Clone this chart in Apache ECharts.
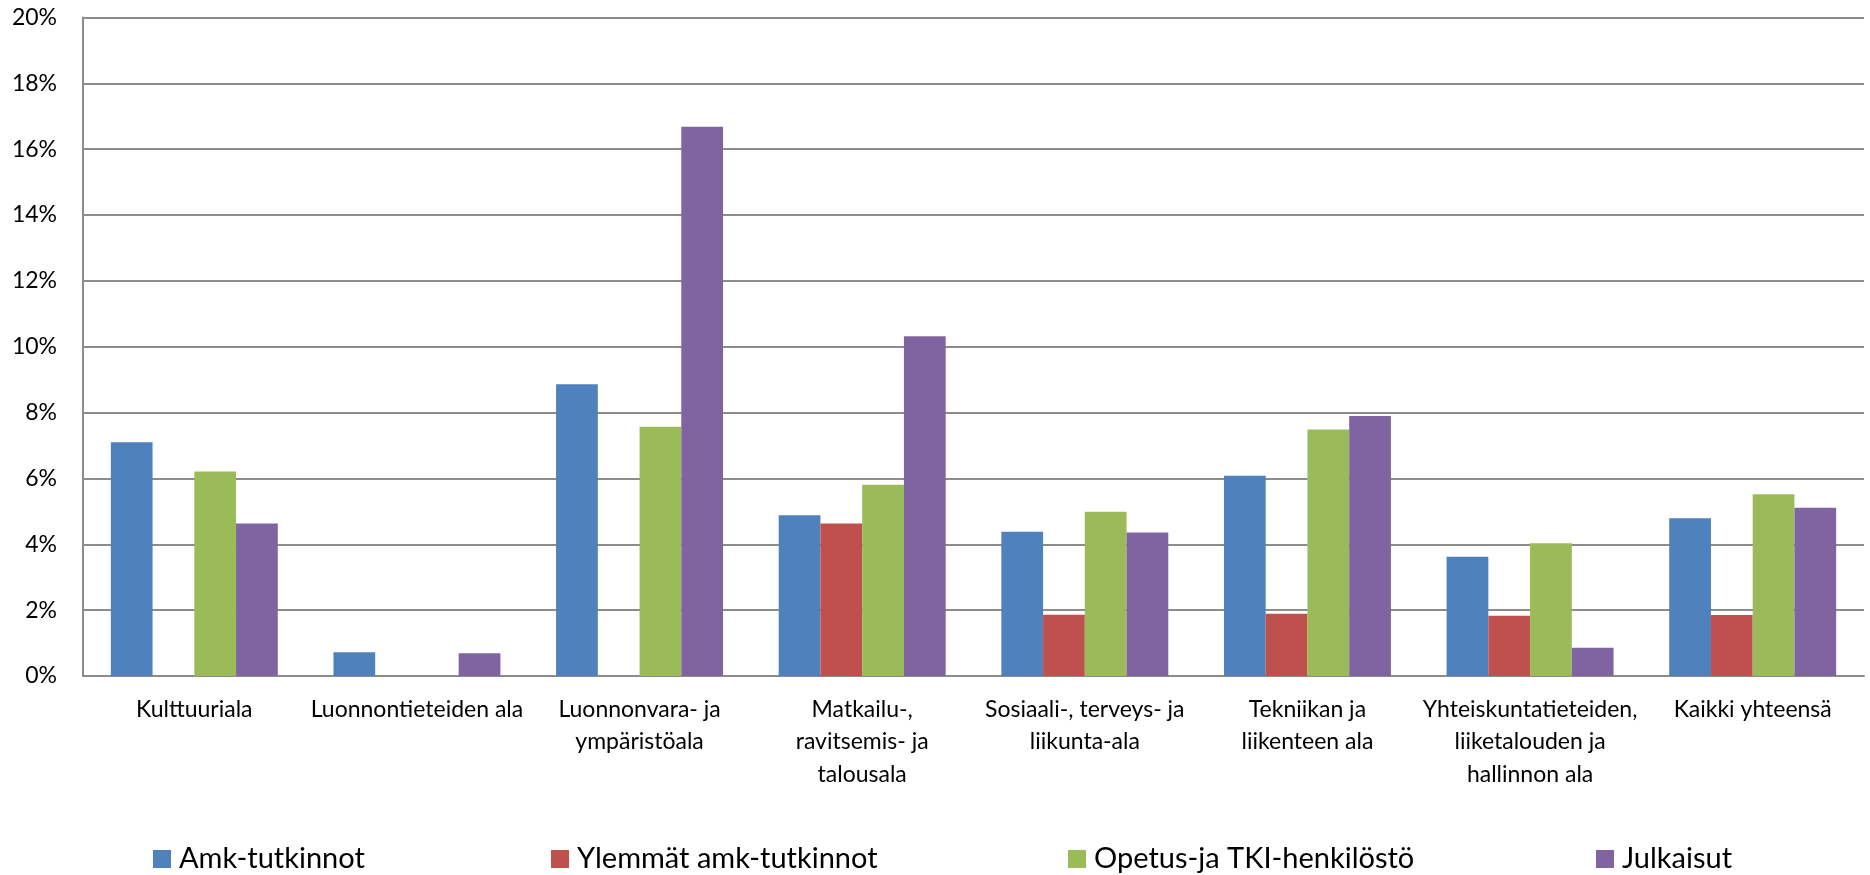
<!DOCTYPE html>
<html>
<head>
<meta charset="utf-8">
<script src="https://cdn.jsdelivr.net/npm/echarts@6/dist/echarts.min.js"></script>
<style>
html,body{margin:0;padding:0;background:#fff;}
#c{width:1870px;height:875px;}
</style>
</head>
<body>
<div id="c"></div>
<script>
const categories = [
  "Kulttuuriala",
  "Luonnontieteiden ala",
  "Luonnonvara- ja\nympäristöala",
  "Matkailu-,\nravitsemis- ja\ntalousala",
  "Sosiaali-, terveys- ja\nliikunta-ala",
  "Tekniikan ja\nliikenteen ala",
  "Yhteiskuntatieteiden,\nliiketalouden ja\nhallinnon ala",
  "Kaikki yhteensä"
];
const seriesNames = ["Amk-tutkinnot", "Ylemmät amk-tutkinnot", "Opetus-ja TKI-henkilöstö", "Julkaisut"];
const amkTutkinnot = [7.10, 0.72, 8.86, 4.88, 4.38, 6.08, 3.62, 4.79];
const ylemmatAmk   = [0, 0, 0, 4.63, 1.86, 1.89, 1.83, 1.85];
const opetusTki    = [6.21, 0, 7.57, 5.81, 4.99, 7.49, 4.03, 5.52];
const julkaisut    = [4.63, 0.69, 16.68, 10.32, 4.36, 7.90, 0.86, 5.11];
const yTicks = [0, 2, 4, 6, 8, 10, 12, 14, 16, 18, 20];

const colors = ["#4F81BD", "#C0504D", "#9BBB59", "#8064A2"];
const values = [amkTutkinnot, ylemmatAmk, opetusTki, julkaisut];
const legendLeft = [153, 551, 1068, 1596];
const FONT = "Lato";

const chart = echarts.init(document.getElementById('c'), null, {renderer: 'canvas'});
const option = {
  animation: false,
  backgroundColor: '#ffffff',
  textStyle: {fontFamily: FONT},
  grid: {left: 83, right: 6, top: 17.5, bottom: 199, containLabel: false},
  legend: seriesNames.map((n, i) => ({
    data: [n],
    left: legendLeft[i],
    top: 843,
    orient: 'horizontal',
    itemWidth: 18,
    itemHeight: 18,
    icon: 'rect',
    padding: 0,
    textStyle: {fontFamily: FONT, fontSize: 29, color: '#000', lineHeight: 32, padding: [0, 0, 0, 3]}
  })),
  xAxis: {
    type: 'category',
    data: categories,
    axisLine: {show: true, lineStyle: {color: '#8c8c8c', width: 2}},
    axisTick: {show: false},
    axisLabel: {
      interval: 0,
      margin: 17,
      fontFamily: FONT,
      fontSize: 23,
      lineHeight: 32.5,
      color: '#000',
      align: 'center'
    }
  },
  yAxis: {
    type: 'value',
    min: yTicks[0],
    max: yTicks[yTicks.length - 1],
    interval: 2,
    axisLine: {show: true, lineStyle: {color: '#8c8c8c', width: 2}},
    axisTick: {show: false},
    splitLine: {show: true, lineStyle: {color: '#8c8c8c', width: 2}},
    axisLabel: {
      margin: 26,
      fontFamily: FONT,
      fontSize: 23,
      color: '#000',
      formatter: v => v + '%'
    }
  },
  series: seriesNames.map((n, i) => ({
    name: n,
    type: 'bar',
    data: values[i],
    barGap: '0%',
    barCategoryGap: '25%',
    itemStyle: {color: colors[i]}
  }))
};
chart.setOption(option);
</script>
</body>
</html>
